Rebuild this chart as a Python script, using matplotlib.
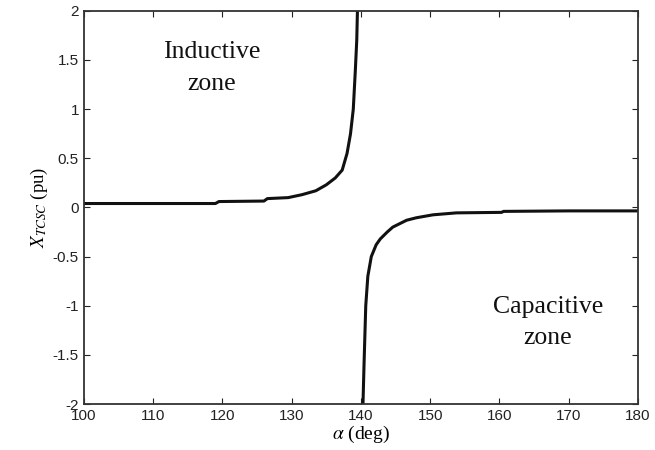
import matplotlib
matplotlib.use("Agg")
import matplotlib.pyplot as plt

# Inductive branch
alpha_ind = [100, 119, 119.5, 126, 126.5, 129.5, 131.5, 133.5, 135, 136.3,
             137.3, 138.0, 138.5, 138.9, 139.2, 139.4, 139.5]
x_ind = [0.04, 0.04, 0.06, 0.065, 0.09, 0.10, 0.13, 0.17, 0.23, 0.30,
         0.38, 0.55, 0.75, 1.0, 1.4, 1.7, 2.0]

# Capacitive branch
alpha_cap = [140.3, 140.45, 140.7, 141.0, 141.5, 142.2, 142.8, 143.8, 144.6,
             146.6, 148, 150.4, 153.8, 160.3, 160.6, 170, 180]
x_cap = [-2.0, -1.6, -1.0, -0.7, -0.5, -0.38, -0.32, -0.25, -0.2,
         -0.13, -0.105, -0.075, -0.055, -0.05, -0.04, -0.035, -0.035]

xticks = [100, 110, 120, 130, 140, 150, 160, 170, 180]
yticks = [-2, -1.5, -1, -0.5, 0, 0.5, 1, 1.5, 2]
ytick_labels = ["-2", "-1.5", "-1", "-0.5", "0", "0.5", "1", "1.5", "2"]

plt.rcParams['mathtext.fontset'] = 'stix'

fig = plt.figure(figsize=(6.55, 4.5), dpi=100)
ax = fig.add_axes([0.128, 0.102, 0.846, 0.874])

ax.plot(alpha_ind, x_ind, color='#111111', lw=2.2)
ax.plot(alpha_cap, x_cap, color='#111111', lw=2.2)

ax.set_xlim(100, 180)
ax.set_ylim(-2, 2)
ax.set_xticks(xticks)
ax.set_yticks(yticks)
ax.set_yticklabels(ytick_labels)
ax.tick_params(direction='in', length=4, width=0.8, top=True, right=True,
               labelsize=11, colors='#222222')
for lab in ax.get_xticklabels() + ax.get_yticklabels():
    lab.set_family('Liberation Sans')
for sp in ax.spines.values():
    sp.set_linewidth(1.3)
    sp.set_color('#333333')

ax.set_xlabel(r"$\alpha$ (deg)", family='Liberation Serif', fontsize=14, labelpad=1)
ax.set_ylabel(r"$X_{TCSC}$ (pu)", family='Liberation Serif', fontsize=13.5, labelpad=2)

ax.text(118.5, 1.42, "Inductive\nzone", family='Liberation Serif', fontsize=18.5,
        ha='center', va='center', linespacing=1.55, color='#111111')
ax.text(167, -1.17, "Capacitive\nzone", family='Liberation Serif', fontsize=18.5,
        ha='center', va='center', linespacing=1.55, color='#111111')

fig.savefig("out.png", dpi=100)
